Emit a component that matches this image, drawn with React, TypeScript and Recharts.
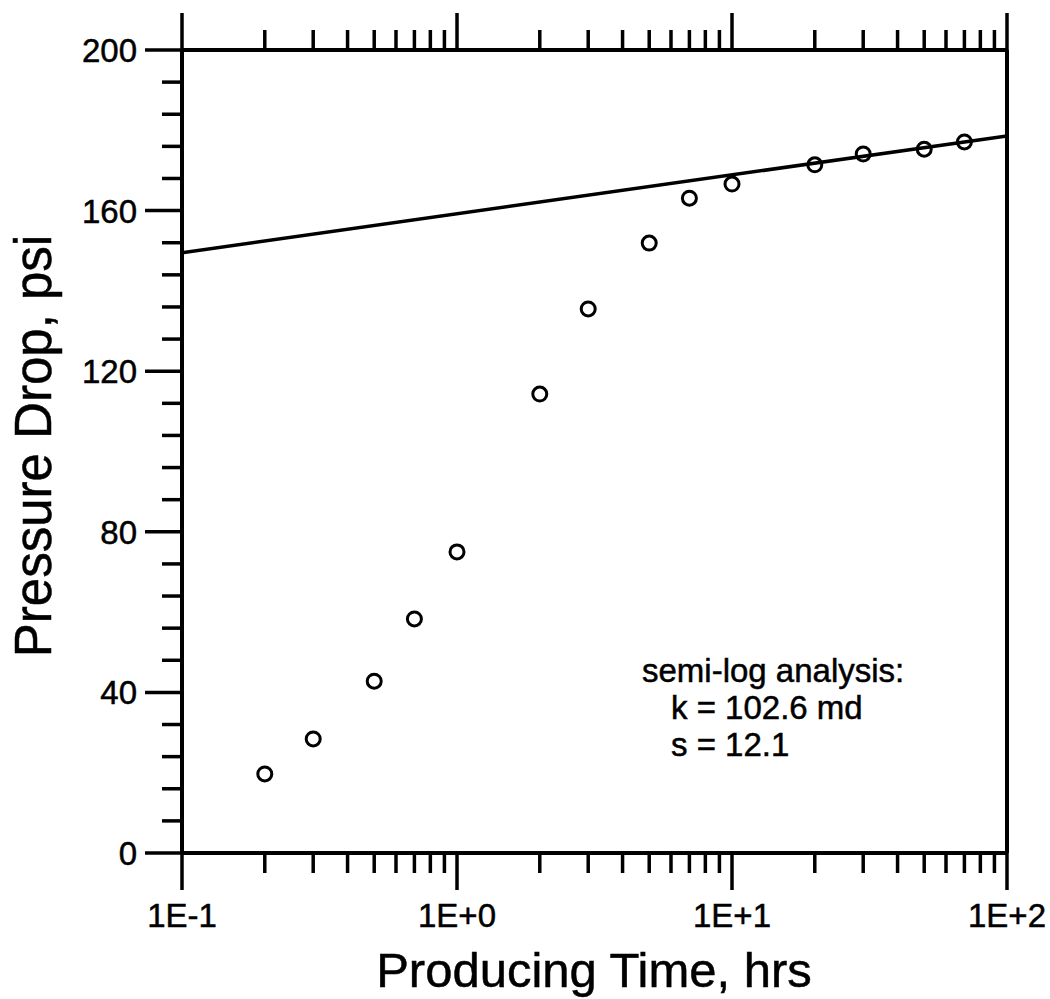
import { ComposedChart, Line, Scatter, XAxis, YAxis, Customized } from "recharts";

// measured data (producing time, hrs vs pressure drop, psi)
const timeHrs = [0.2, 0.3, 0.5, 0.7, 1, 2, 3, 5, 7, 10, 20, 30, 50, 70];
const pressureDrop = [19.7, 28.4, 42.8, 58.3, 75.0, 114.3, 135.5, 151.9, 163.1, 166.6, 171.4, 174.1, 175.3, 177.1];

// semi-log straight line fit
const fitTime = [0.1, 100];
const fitPressure = [149.5, 178.6];

const xTicks = [
  0.1, 0.2, 0.3, 0.4, 0.5, 0.6, 0.7, 0.8, 0.9,
  1, 2, 3, 4, 5, 6, 7, 8, 9,
  10, 20, 30, 40, 50, 60, 70, 80, 90, 100,
];
const xMajor = [0.1, 1, 10, 100];
const xLabels = ["1E-1", "1E+0", "1E+1", "1E+2"];

const yTicks = [
  0, 8, 16, 24, 32, 40, 48, 56, 64, 72, 80, 88, 96, 104, 112, 120, 128, 136,
  144, 152, 160, 168, 176, 184, 192, 200,
];
const yMajor = [0, 40, 80, 120, 160, 200];

const pointData = timeHrs.map((t, i) => ({ t, p: pressureDrop[i] }));
const fitData = fitTime.map((t, i) => ({ t, p: fitPressure[i] }));

const MAJOR = 37;
const MINOR = 20;
const TICK_W = 3.5;
const FONT = "'Liberation Sans', Arial, sans-serif";
const textStyle = { fontFamily: FONT, fill: "#000", stroke: "#000", strokeWidth: 0.5 };

const BottomTick = ({ x, y, payload }: any) => {
  const i = xMajor.indexOf(payload.value);
  return (
    <g>
      <line x1={x} x2={x} y1={y} y2={y + (i >= 0 ? MAJOR : MINOR)} stroke="#000" strokeWidth={TICK_W} />
      {i >= 0 && (
        <text x={x} y={y + 74} textAnchor="middle" fontSize={33} style={textStyle}>
          {xLabels[i]}
        </text>
      )}
    </g>
  );
};

const TopTick = ({ x, y, payload }: any) => {
  const major = xMajor.includes(payload.value);
  return <line x1={x} x2={x} y1={y} y2={y - (major ? MAJOR : MINOR)} stroke="#000" strokeWidth={TICK_W} />;
};

const LeftTick = ({ x, y, payload }: any) => {
  const major = yMajor.includes(payload.value);
  return (
    <g>
      <line x1={x - (major ? MAJOR : MINOR)} x2={x} y1={y} y2={y} stroke="#000" strokeWidth={TICK_W} />
      {major && (
        <text x={x - 45} y={y + 12} textAnchor="end" fontSize={33} style={textStyle}>
          {payload.value}
        </text>
      )}
    </g>
  );
};

const RightTick = ({ x, y, payload }: any) => {
  const major = yMajor.includes(payload.value);
  return <line x1={x} x2={x + (major ? MAJOR : MINOR)} y1={y} y2={y} stroke="#000" strokeWidth={TICK_W} />;
};

const Texts = () => (
  <g style={textStyle}>
    <text x={594} y={987} textAnchor="middle" fontSize={49}>
      Producing Time, hrs
    </text>
    <text x={51} y={446} textAnchor="middle" fontSize={51} transform="rotate(-90, 51, 446)">
      Pressure Drop, psi
    </text>
    <text x={642} y={682} fontSize={33}>semi-log analysis:</text>
    <text x={671} y={719} fontSize={33}>k = 102.6 md</text>
    <text x={671} y={756} fontSize={33}>s = 12.1</text>
  </g>
);

const axisLine = { stroke: "#000", strokeWidth: 4 };

export default function App() {
  return (
    <div style={{ position: "absolute", left: 0, top: 0, background: "#fff" }}>
      <ComposedChart width={1050} height={999} margin={{ top: 0, right: 0, bottom: 0, left: 0 }}>
        <XAxis
          xAxisId="b"
          dataKey="t"
          type="number"
          scale="log"
          domain={[0.1, 100]}
          ticks={xTicks}
          interval={0}
          height={146}
          tickSize={0}
          tickMargin={0}
          tickLine={false}
          axisLine={axisLine}
          tick={BottomTick}
          allowDataOverflow
        />
        <XAxis
          xAxisId="t"
          orientation="top"
          dataKey="t"
          type="number"
          scale="log"
          domain={[0.1, 100]}
          ticks={xTicks}
          interval={0}
          height={50}
          tickSize={0}
          tickMargin={0}
          tickLine={false}
          axisLine={axisLine}
          tick={TopTick}
          allowDataOverflow
        />
        <YAxis
          yAxisId="l"
          dataKey="p"
          type="number"
          domain={[0, 200]}
          ticks={yTicks}
          interval={0}
          width={182}
          tickSize={0}
          tickMargin={0}
          tickLine={false}
          axisLine={axisLine}
          tick={LeftTick}
        />
        <YAxis
          yAxisId="r"
          orientation="right"
          dataKey="p"
          type="number"
          domain={[0, 200]}
          ticks={yTicks}
          interval={0}
          width={43}
          tickSize={0}
          tickMargin={0}
          tickLine={false}
          axisLine={axisLine}
          tick={RightTick}
        />
        <Line
          xAxisId="b"
          yAxisId="l"
          data={fitData}
          dataKey="p"
          type="linear"
          stroke="#000"
          strokeWidth={3.5}
          dot={false}
          activeDot={false}
          isAnimationActive={false}
        />
        <Scatter
          xAxisId="b"
          yAxisId="l"
          data={pointData}
          dataKey="p"
          isAnimationActive={false}
          shape={(props: any) => (
            <circle cx={props.cx} cy={props.cy} r={7} fill="none" stroke="#000" strokeWidth={3} />
          )}
        />
        <Customized component={Texts} />
      </ComposedChart>
    </div>
  );
}
